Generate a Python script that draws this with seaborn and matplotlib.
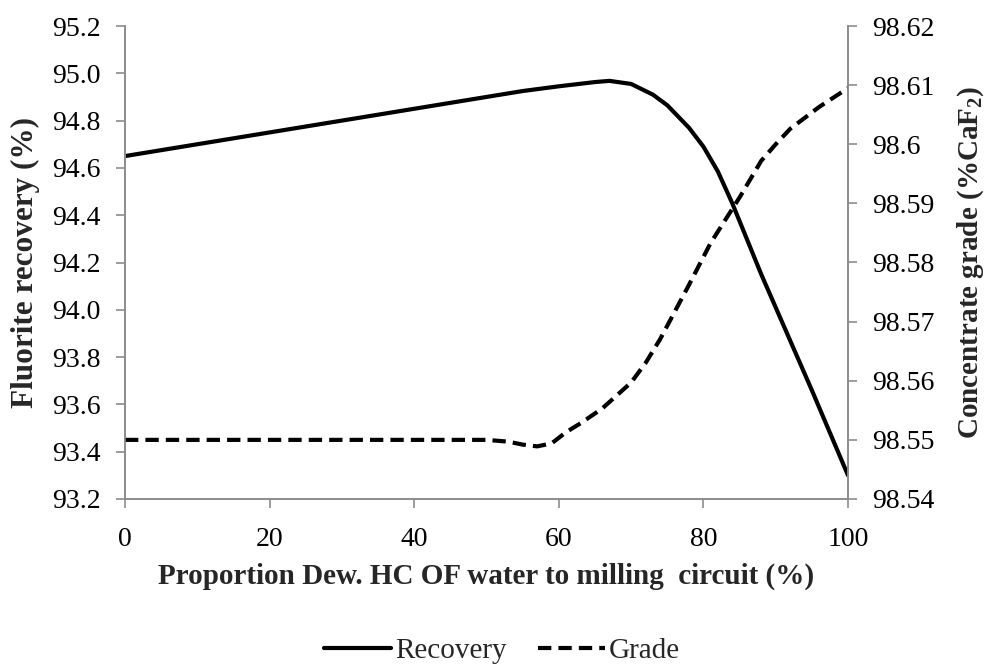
import seaborn as sns
import matplotlib.pyplot as plt
import matplotlib.ticker as mticker
import pandas as pd

sns.set_theme(style="white")
plt.rcParams['font.family'] = ['Liberation Serif', 'DejaVu Serif']
plt.rcParams['mathtext.fontset'] = 'custom'
plt.rcParams['mathtext.rm'] = 'Liberation Serif'
plt.rcParams['mathtext.bf'] = 'Liberation Serif:bold'

# values
rec_x = [0, 10, 20, 30, 40, 50, 55, 60, 65, 67, 70, 73, 75, 78, 80, 82, 84, 86, 88, 90, 95, 100]
recovery = [94.65, 94.70, 94.75, 94.80, 94.85, 94.90, 94.925, 94.945, 94.963, 94.968, 94.955,
            94.91, 94.865, 94.77, 94.69, 94.585, 94.45, 94.30, 94.15, 94.01, 93.66, 93.30]

gr_x = [0, 10, 20, 30, 40, 50, 53, 55, 57, 59, 61, 63, 66, 68, 70, 72, 74, 78, 81, 85, 88, 90, 92, 96, 100]
grade = [98.55, 98.55, 98.55, 98.55, 98.55, 98.55, 98.5497, 98.5492, 98.5489, 98.5494, 98.5513,
         98.5528, 98.5553, 98.5575, 98.5597, 98.5630, 98.5670, 98.5762, 98.5833, 98.5910,
         98.5972, 98.6000, 98.6026, 98.6063, 98.6095]

df_rec = pd.DataFrame({"x": rec_x, "y": recovery})
df_gr = pd.DataFrame({"x": gr_x, "y": grade})

fig, ax = plt.subplots(figsize=(9.84, 6.64), dpi=100)
fig.subplots_adjust(left=125/984, right=848/984, top=1-26/664, bottom=1-499/664)
ax2 = ax.twinx()

sns.lineplot(data=df_rec, x="x", y="y", ax=ax, color="black", linewidth=3, label="Recovery", legend=False)
sns.lineplot(data=df_gr, x="x", y="y", ax=ax2, color="black", linewidth=3, label="Grade", legend=False)
ax2.lines[0].set_dashes([3.2, 1.7])

ax.set_xlim(0, 100)
ax.set_ylim(93.2, 95.2)
ax2.set_ylim(98.54, 98.62)
ax.set_xticks([0, 20, 40, 60, 80, 100])
ax.set_yticks([93.2 + 0.2 * i for i in range(11)])
ax2.set_yticks([98.54 + 0.01 * i for i in range(9)])
ax.yaxis.set_major_formatter(mticker.FormatStrFormatter('%.1f'))
ax2.yaxis.set_major_formatter(mticker.FuncFormatter(lambda v, p: f"{round(v, 2):g}"))

for a in (ax, ax2):
    for s in a.spines.values():
        s.set_color('#8c8c8c')
        s.set_linewidth(1.2)
    a.spines['top'].set_visible(False)
    a.tick_params(colors='#8c8c8c', labelcolor='black', labelsize=20, length=6.5, width=1.2,
                  direction='out', pad=11)
ax.tick_params(axis='x', pad=14)
ax.tick_params(axis='both', left=True, bottom=True)
ax2.tick_params(axis='y', right=True)
ax.grid(False)
ax2.grid(False)

ax.set_xlabel("Proportion Dew. HC OF water to milling  circuit (%)", fontsize=21, fontweight='bold')
ax.set_ylabel("Fluorite recovery (%)", fontsize=22.5, fontweight='bold')
ax2.set_ylabel(r"Concentrate grade (%CaF$_\mathbf{2}$)", fontsize=21, fontweight='bold')
ax.xaxis.set_label_coords(0.5, -0.135)
ax.yaxis.set_label_coords(-0.118, 0.5)
ax2.yaxis.set_label_coords(1.148, 0.5)

handles = ax.get_lines()[:1] + ax2.get_lines()[:1]
fig.legend(handles, ["Recovery", "Grade"], loc='center', bbox_to_anchor=(502/984, 1-651/664),
           ncol=2, frameon=False, fontsize=21, handlelength=2.3, handletextpad=0.15, columnspacing=1.05)

fig.savefig("out.png", dpi=100)
